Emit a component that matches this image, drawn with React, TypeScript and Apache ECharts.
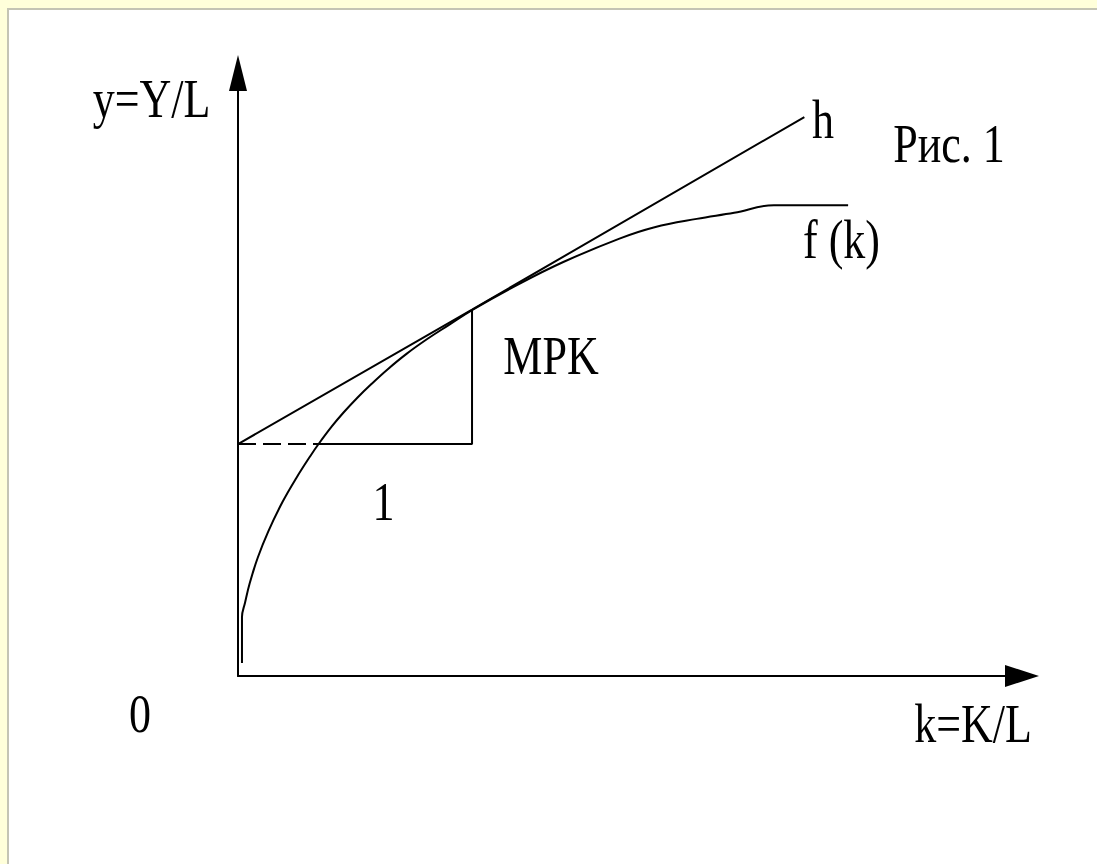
import React, { useEffect, useRef } from "react";
import * as echarts from "echarts";

// f(k): production function (k = K/L, y = Y/L)
const curveK = [0.017, 0.017, 0.03, 0.05, 0.085, 0.13, 0.19, 0.25, 0.31, 0.342, 0.4, 0.45, 0.51, 0.57, 0.64, 0.72, 0.81, 0.9, 1.0, 1.2, 1.39, 1.63, 1.78, 1.96, 2.12, 2.29, 2.607];
const curveY = [0.056, 0.254, 0.316, 0.4, 0.512, 0.625, 0.75, 0.855, 0.95, 0.997, 1.075, 1.135, 1.2, 1.259, 1.323, 1.389, 1.454, 1.513, 1.578, 1.69, 1.785, 1.886, 1.935, 1.971, 1.997, 2.03, 2.03];

// tangent line h
const hK = [0, 1, 2.42];
const hY = [1, 1.58, 2.41];

// triangle (run = 1, rise = MPK)
const dashK = [0, 0.342];
const dashY = [1, 1];
const triK = [0.342, 1, 1];
const triY = [1, 1, 1.58];

const X_MAX = 3.35;
const Y_MAX = 2.6;

const zip = (a: number[], b: number[]) => a.map((v, i) => [v, b[i]]);

const FONT = "55px 'Liberation Serif', 'Times New Roman', serif";

const labels = [
  { text: "y=Y/L", x: 151.5, y: 98.5 },
  { text: "h", x: 823, y: 119.5 },
  { text: "Рис. 1", x: 949, y: 143.5 },
  { text: "f (k)", x: 841.5, y: 240 },
  { text: "MPK", x: 551, y: 356 },
  { text: "1", x: 383.5, y: 501.5 },
  { text: "0", x: 140, y: 713.5 },
  { text: "k=K/L", x: 973, y: 723.5 },
];

export default function App() {
  const ref = useRef<HTMLDivElement>(null);
  useEffect(() => {
    if (!ref.current) return;
    const chart = echarts.init(ref.current, undefined, { renderer: "svg" });
    const lineStyle = { color: "#000", width: 2 };
    chart.setOption({
      animation: false,
      backgroundColor: "transparent",
      grid: { left: 238, right: 75, top: 73, bottom: 188, containLabel: false },
      xAxis: {
        type: "value",
        min: 0,
        max: X_MAX,
        axisLine: {
          show: true,
          onZero: false,
          symbol: ["none", "triangle"],
          symbolSize: [22, 34],
          lineStyle: { color: "#000", width: 2 },
        },
        axisTick: { show: false },
        axisLabel: { show: false },
        splitLine: { show: false },
      },
      yAxis: {
        type: "value",
        min: 0,
        max: Y_MAX,
        axisLine: {
          show: true,
          onZero: false,
          symbol: ["none", "triangle"],
          symbolSize: [18, 36],
          lineStyle: { color: "#000", width: 2 },
        },
        axisTick: { show: false },
        axisLabel: { show: false },
        splitLine: { show: false },
      },
      series: [
        {
          name: "f (k)",
          type: "line",
          data: zip(curveK, curveY),
          smooth: 0.4,
          showSymbol: false,
          lineStyle,
        },
        {
          name: "h",
          type: "line",
          data: zip(hK, hY),
          showSymbol: false,
          lineStyle,
        },
        {
          name: "dash",
          type: "line",
          data: zip(dashK, dashY),
          showSymbol: false,
          lineStyle: { color: "#000", width: 2, type: [18, 7] },
        },
        {
          name: "triangle",
          type: "line",
          data: zip(triK, triY),
          showSymbol: false,
          lineStyle,
        },
      ],
      graphic: labels.map((l) => ({
        type: "text",
        x: l.x,
        y: l.y,
        scaleX: 0.8,
        silent: true,
        style: {
          text: l.text,
          font: FONT,
          fill: "#000",
          align: "center",
          verticalAlign: "middle",
          textAlign: "center",
          textVerticalAlign: "middle",
        },
      })),
    });
    return () => chart.dispose();
  }, []);

  return (
    <div
      style={{
        position: "fixed",
        left: 0,
        top: 0,
        width: 1097,
        height: 864,
        background: "#FFFFDA",
        overflow: "hidden",
      }}
    >
      <div
        style={{
          position: "absolute",
          left: 7,
          top: 8,
          right: 0,
          bottom: 0,
          background: "#FFFFFF",
          borderLeft: "2px solid #C4C4B4",
          borderTop: "2px solid #C4C4B4",
        }}
      />
      <div
        ref={ref}
        style={{ position: "absolute", left: 0, top: 0, width: 1097, height: 864 }}
      />
    </div>
  );
}
